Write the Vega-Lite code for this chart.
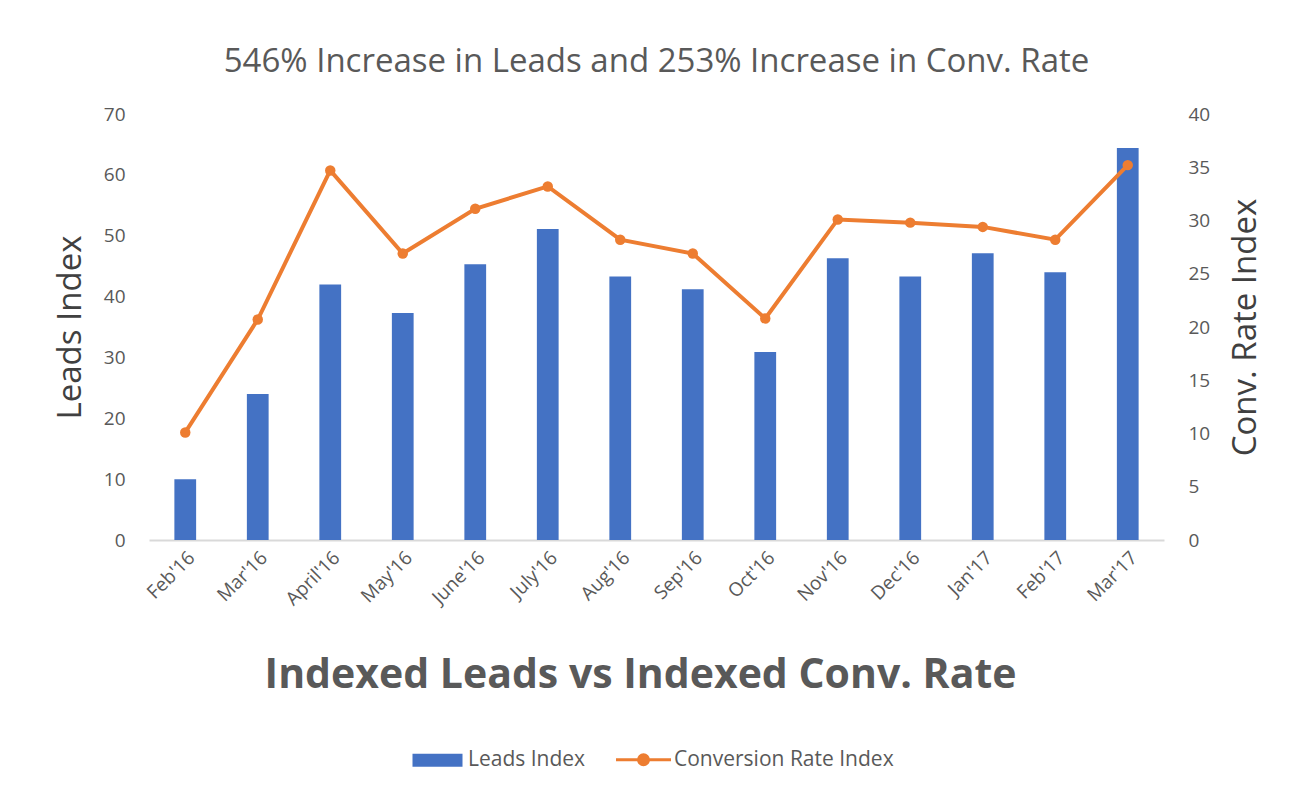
{
  "$schema": "https://vega.github.io/schema/vega-lite/v6.json",
  "width": 1015,
  "height": 426,
  "autosize": {"type": "none"},
  "padding": {"left": 149, "top": 114, "right": 126, "bottom": 249},
  "background": "white",
  "title": {
    "text": "546% Increase in Leads and 253% Increase in Conv. Rate",
    "font": "Open Sans",
    "fontSize": 33,
    "fontWeight": "normal",
    "color": "#595959",
    "offset": 26
  },
  "data": {
    "values": [
      {"month": "Feb'16", "leads": 10.0, "conv": 10.1},
      {"month": "Mar'16", "leads": 24.0, "conv": 20.7},
      {"month": "April'16", "leads": 42.0, "conv": 34.7},
      {"month": "May'16", "leads": 37.3, "conv": 26.9},
      {"month": "June'16", "leads": 45.3, "conv": 31.1},
      {"month": "July'16", "leads": 51.1, "conv": 33.2},
      {"month": "Aug'16", "leads": 43.3, "conv": 28.2},
      {"month": "Sep'16", "leads": 41.2, "conv": 26.9},
      {"month": "Oct'16", "leads": 30.9, "conv": 20.8},
      {"month": "Nov'16", "leads": 46.3, "conv": 30.1},
      {"month": "Dec'16", "leads": 43.3, "conv": 29.8},
      {"month": "Jan'17", "leads": 47.1, "conv": 29.4},
      {"month": "Feb'17", "leads": 44.0, "conv": 28.2},
      {"month": "Mar'17", "leads": 64.4, "conv": 35.2}
    ]
  },
  "encoding": {
    "x": {
      "field": "month",
      "type": "nominal",
      "sort": null,
      "scale": {"paddingInner": 0.7, "paddingOuter": 0.35},
      "axis": {
        "title": "Indexed Leads vs Indexed Conv. Rate",
        "titleFont": "Open Sans",
        "titleFontSize": 41,
        "titleFontWeight": "bold",
        "titleColor": "#595959",
        "titlePadding": 47,
        "titleX": 491,
        "labelAngle": -45,
        "labelFont": "Open Sans",
        "labelFontSize": 19,
        "labelColor": "#595959",
        "labelPadding": 8,
        "ticks": false,
        "domainColor": "#d9d9d9",
        "domainWidth": 2,
        "grid": false
      }
    }
  },
  "layer": [
    {
      "mark": {"type": "bar"},
      "encoding": {
        "y": {
          "field": "leads",
          "type": "quantitative",
          "scale": {"domain": [0, 70]},
          "axis": {
            "title": "Leads Index",
            "values": [0, 10, 20, 30, 40, 50, 60, 70],
            "titleFont": "Open Sans",
            "titleFontSize": 33,
            "titleFontWeight": "normal",
            "titleColor": "#404040",
            "titlePadding": 16,
            "labelFont": "Open Sans",
            "labelFontSize": 19,
            "labelColor": "#595959",
            "labelPadding": 24,
            "ticks": false,
            "domain": false,
            "grid": false
          }
        },
        "color": {"datum": "Leads Index"}
      }
    },
    {
      "mark": {"type": "line", "strokeWidth": 4, "point": {"filled": true, "size": 110}},
      "encoding": {
        "y": {
          "field": "conv",
          "type": "quantitative",
          "scale": {"domain": [0, 40]},
          "axis": {
            "orient": "right",
            "title": "Conv. Rate Index",
            "titleAngle": 270,
            "titleBaseline": "top",
            "values": [0, 5, 10, 15, 20, 25, 30, 35, 40],
            "titleFont": "Open Sans",
            "titleFontSize": 33,
            "titleFontWeight": "normal",
            "titleColor": "#404040",
            "titlePadding": 20,
            "labelFont": "Open Sans",
            "labelFontSize": 19,
            "labelColor": "#595959",
            "labelPadding": 24,
            "ticks": false,
            "domain": false,
            "grid": false
          }
        },
        "color": {
          "datum": "Conversion Rate Index",
          "legend": {
            "orient": "none",
            "direction": "horizontal",
            "legendX": 278,
            "legendY": 635,
            "title": null,
            "labelFont": "Open Sans",
            "labelFontSize": 21,
            "labelColor": "#595959",
            "labelLimit": 400,
            "columnPadding": 24,
            "symbolSize": 2500,
            "symbolStrokeWidth": 3,
            "labelOffset": 20,
            "encode": {
              "symbols": {
                "update": {
                  "shape": {"signal": "datum.value === 'Leads Index' ? 'M-1,-0.26H1V0.26H-1Z' : 'M-1.1,0H1.1M0.2,0A0.2,0.2,0,1,1,-0.2,0A0.2,0.2,0,1,1,0.2,0Z'"},
                  "fill": {"signal": "datum.value === 'Leads Index' ? '#4472C4' : '#ED7D31'"},
                  "stroke": {"signal": "datum.value === 'Leads Index' ? '#4472C4' : '#ED7D31'"},
                  "strokeWidth": {"signal": "datum.value === 'Leads Index' ? 0 : 3"},
                  "opacity": {"value": 1}
                }
              }
            }
          }
        }
      }
    }
  ],
  "resolve": {"scale": {"y": "independent"}},
  "config": {
    "view": {"stroke": null},
    "range": {"category": ["#4472C4", "#ED7D31"]}
  }
}
